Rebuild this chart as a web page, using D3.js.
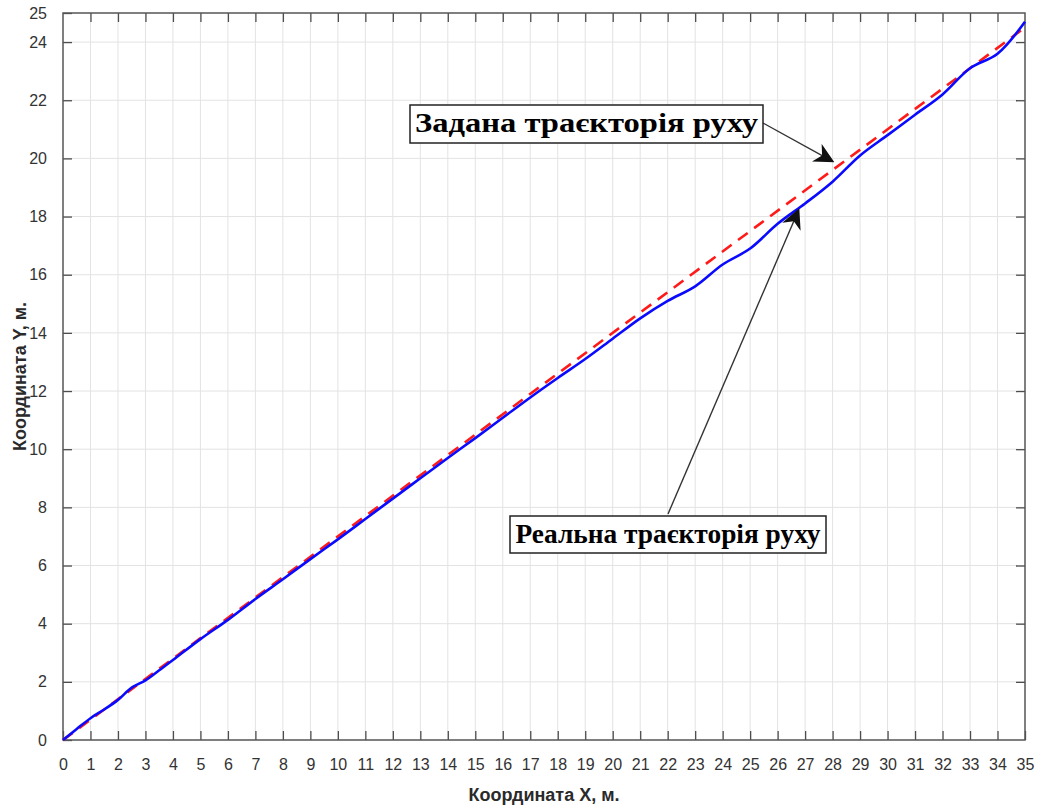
<!DOCTYPE html>
<html>
<head>
<meta charset="utf-8">
<script src="https://cdn.jsdelivr.net/npm/d3@7"></script>
<style>
  body { margin: 0; background: #fff; }
  svg { display: block; }
</style>
</head>
<body>
<svg id="chart" width="1040" height="807"></svg>
<script>
// data
const setX = [0, 35];
const setY = [0, 24.5];

const realX = [0, 0.5, 1, 1.5, 2, 2.5, 3, 3.5, 4, 5, 6, 7, 8, 9, 10, 11, 12, 13, 14, 15, 16, 17,
  18, 19, 20, 21, 22, 23, 24, 25, 26, 27, 28, 29, 30, 31, 32, 33, 34, 35];
const realY = [0, 0.38, 0.75, 1.05, 1.38, 1.8, 2.05, 2.4, 2.75, 3.47, 4.13, 4.85, 5.53, 6.22, 6.9, 7.6, 8.3, 9.0, 9.7, 10.38, 11.08, 11.78,
  12.45, 13.1, 13.8, 14.5, 15.1, 15.6, 16.35, 16.9, 17.75, 18.45, 19.2, 20.1, 20.8, 21.5, 22.2, 23.1, 23.6, 24.7];

const xTicks = d3.range(0, 36, 1);
const yTicks = [0, 2, 4, 6, 8, 10, 12, 14, 16, 18, 20, 22, 24, 25];
const yGrid = [2, 4, 6, 8, 10, 12, 14, 16, 18, 20, 22, 24];

const labelX = "Координата X, м.";
const labelY = "Координата Y, м.";
const noteSet = "Задана траєкторія руху";
const noteReal = "Реальна траєкторія руху";

// layout
const svg = d3.select("#chart");
const plotL = 63, plotR = 1025, plotT = 13, plotB = 740;

const x = d3.scaleLinear().domain([0, 35]).range([plotL, plotR]);
const y = d3.scaleLinear().domain([0, 25]).range([plotB, plotT]);

// grid
svg.append("g")
  .selectAll("line")
  .data(xTicks.slice(1, -1))
  .join("line")
    .attr("x1", d => x(d)).attr("x2", d => x(d))
    .attr("y1", plotT).attr("y2", plotB)
    .attr("stroke", "#e3e3e3").attr("stroke-width", 1);

svg.append("g")
  .selectAll("line")
  .data(yGrid)
  .join("line")
    .attr("x1", plotL).attr("x2", plotR)
    .attr("y1", d => y(d)).attr("y2", d => y(d))
    .attr("stroke", "#e3e3e3").attr("stroke-width", 1);

// axes, MATLAB style ticks pointing inwards
const axisStyle = (g) => {
  g.select(".domain").remove();
  g.selectAll(".tick line").attr("stroke", "#4d4d4d").attr("stroke-width", 1.3);
  g.selectAll(".tick text")
    .attr("fill", "#333")
    .style("font-family", "'Liberation Sans', Arial, sans-serif")
    .style("font-size", "16px");
};

svg.append("g")
  .attr("transform", `translate(0,${plotB})`)
  .call(d3.axisBottom(x).tickValues(xTicks).tickFormat(d3.format("d")).tickSizeInner(-9).tickPadding(19))
  .call(axisStyle);

svg.append("g")
  .attr("transform", `translate(0,${plotT})`)
  .call(d3.axisTop(x).tickValues(xTicks.slice(1, -1)).tickSizeInner(-9).tickFormat(""))
  .call(axisStyle);

svg.append("g")
  .attr("transform", `translate(${plotL},0)`)
  .call(d3.axisLeft(y).tickValues(yTicks).tickFormat(d3.format("d")).tickSizeInner(-9).tickPadding(16))
  .call(axisStyle);

svg.append("g")
  .attr("transform", `translate(${plotR},0)`)
  .call(d3.axisRight(y).tickValues(yGrid).tickSizeInner(-9).tickFormat(""))
  .call(axisStyle);

// box
svg.append("rect")
  .attr("x", plotL).attr("y", plotT)
  .attr("width", plotR - plotL).attr("height", plotB - plotT)
  .attr("fill", "none").attr("stroke", "#555").attr("stroke-width", 1.5);

// lines
const line = d3.line()
  .x(d => x(d[0]))
  .y(d => y(d[1]));

svg.append("path")
  .datum(setX.map((v, i) => [v, setY[i]]))
  .attr("d", line)
  .attr("fill", "none")
  .attr("stroke", "#ff1a1a")
  .attr("stroke-width", 2.6)
  .attr("stroke-dasharray", "12,8");

svg.append("path")
  .datum(realX.map((v, i) => [v, realY[i]]))
  .attr("d", line.curve(d3.curveCatmullRom))
  .attr("fill", "none")
  .attr("stroke", "#0a0aff")
  .attr("stroke-width", 2.6);

// arrows
const defs = svg.append("defs");
defs.append("marker")
  .attr("id", "head")
  .attr("viewBox", "0 0 10 10")
  .attr("refX", 9).attr("refY", 5)
  .attr("markerWidth", 20).attr("markerHeight", 20)
  .attr("markerUnits", "userSpaceOnUse")
  .attr("orient", "auto")
  .append("path")
    .attr("d", "M0,0 L10,5 L0,10 L3,5 Z")
    .attr("fill", "#111");

svg.append("line")
  .attr("x1", 763).attr("y1", 123)
  .attr("x2", x(28.0)).attr("y2", y(19.9))
  .attr("stroke", "#333").attr("stroke-width", 1.4)
  .attr("marker-end", "url(#head)");

svg.append("line")
  .attr("x1", 668).attr("y1", 514)
  .attr("x2", x(26.76)).attr("y2", y(18.22))
  .attr("stroke", "#333").attr("stroke-width", 1.4)
  .attr("marker-end", "url(#head)");

// annotation boxes
const note = (text, bx, by, bw, bh, tw) => {
  const g = svg.append("g");
  g.append("rect")
    .attr("x", bx).attr("y", by)
    .attr("width", bw).attr("height", bh)
    .attr("fill", "#fff").attr("stroke", "#222").attr("stroke-width", 1.5);
  g.append("text")
    .attr("x", bx + bw / 2).attr("y", by + bh / 2 + 8)
    .attr("text-anchor", "middle")
    .attr("textLength", tw)
    .attr("lengthAdjust", "spacingAndGlyphs")
    .style("font-family", "'Liberation Serif', 'Times New Roman', serif")
    .style("font-weight", "bold")
    .style("font-size", "27px")
    .attr("fill", "#000")
    .text(text);
};

note(noteSet, 410, 105, 353, 38, 343);
note(noteReal, 510, 516, 316, 37, 305);

// axis titles
svg.append("text")
  .attr("x", (plotL + plotR) / 2).attr("y", 801)
  .attr("text-anchor", "middle")
  .style("font-family", "'Liberation Sans', Arial, sans-serif")
  .style("font-weight", "bold")
  .style("font-size", "18px")
  .attr("fill", "#2a2a2a")
  .text(labelX);

svg.append("text")
  .attr("transform", `translate(26,${(plotT + plotB) / 2}) rotate(-90)`)
  .attr("text-anchor", "middle")
  .style("font-family", "'Liberation Sans', Arial, sans-serif")
  .style("font-weight", "bold")
  .style("font-size", "18px")
  .attr("fill", "#2a2a2a")
  .text(labelY);
</script>
</body>
</html>
